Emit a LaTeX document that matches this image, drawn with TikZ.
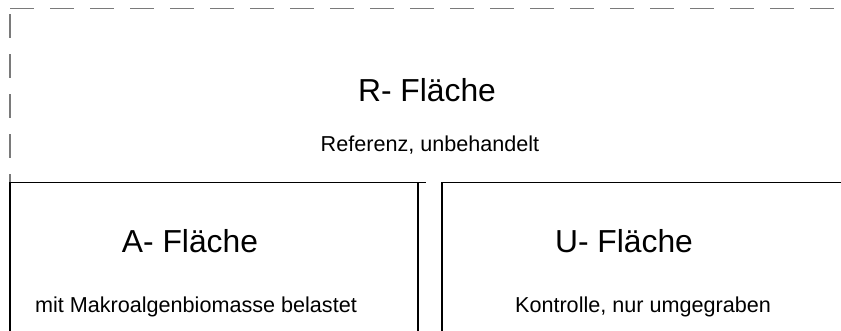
\documentclass[tikz,border=0pt]{standalone}
\usepackage{fontspec}
\setmainfont{Liberation Sans}
\definecolor{dashgray}{HTML}{7A7A7A}
\tikzset{
  refline/.style={draw=dashgray, line width=1.5pt, dash pattern=on 24pt off 16pt},
  boxline/.style={draw=black, line width=1.6pt},
  bigtext/.style={anchor=base, inner sep=0pt, font=\fontsize{31.8pt}{36pt}\selectfont},
  smalltext/.style={anchor=base, inner sep=0pt, font=\fontsize{21.6pt}{26pt}\selectfont}
}
\begin{document}
\begin{tikzpicture}[x=1pt, y=-1pt]
\useasboundingbox (0,0) rectangle (841,330);
% R area (dashed, gray)
\coordinate (rtl) at (10,8.5);
\coordinate (rtr) at (841,8.5);
\coordinate (rlt) at (10,14);
\coordinate (rlb) at (10,182);
\draw[refline] (rtl) -- (rtr);
\draw[refline] (rlt) -- (rlb);
% A area
\coordinate (atl) at (10,182.5);
\coordinate (ate) at (426,182.5);
\coordinate (abl) at (10,331);
\coordinate (atr) at (418,182.5);
\coordinate (abr) at (418,331);
\draw[boxline] (abl) -- (atl) -- (ate);
\draw[boxline] (atr) -- (abr);
% U area
\coordinate (ubl) at (442,331);
\coordinate (utl) at (442,182.5);
\coordinate (utr) at (842,182.5);
\draw[boxline] (ubl) -- (utl) -- (utr);
% texts
\node[bigtext] (rtitle) at (427,101) {R- Fläche};
\node[smalltext] (rsub) at (430,151) {Referenz, unbehandelt};
\node[bigtext] (atitle) at (190,252) {A- Fläche};
\node[smalltext] (asub) at (196,312) {mit Makroalgenbiomasse belastet};
\node[bigtext] (utitle) at (624,252) {U- Fläche};
\node[smalltext] (usub) at (643,312) {Kontrolle, nur umgegraben};
\end{tikzpicture}
\end{document}
